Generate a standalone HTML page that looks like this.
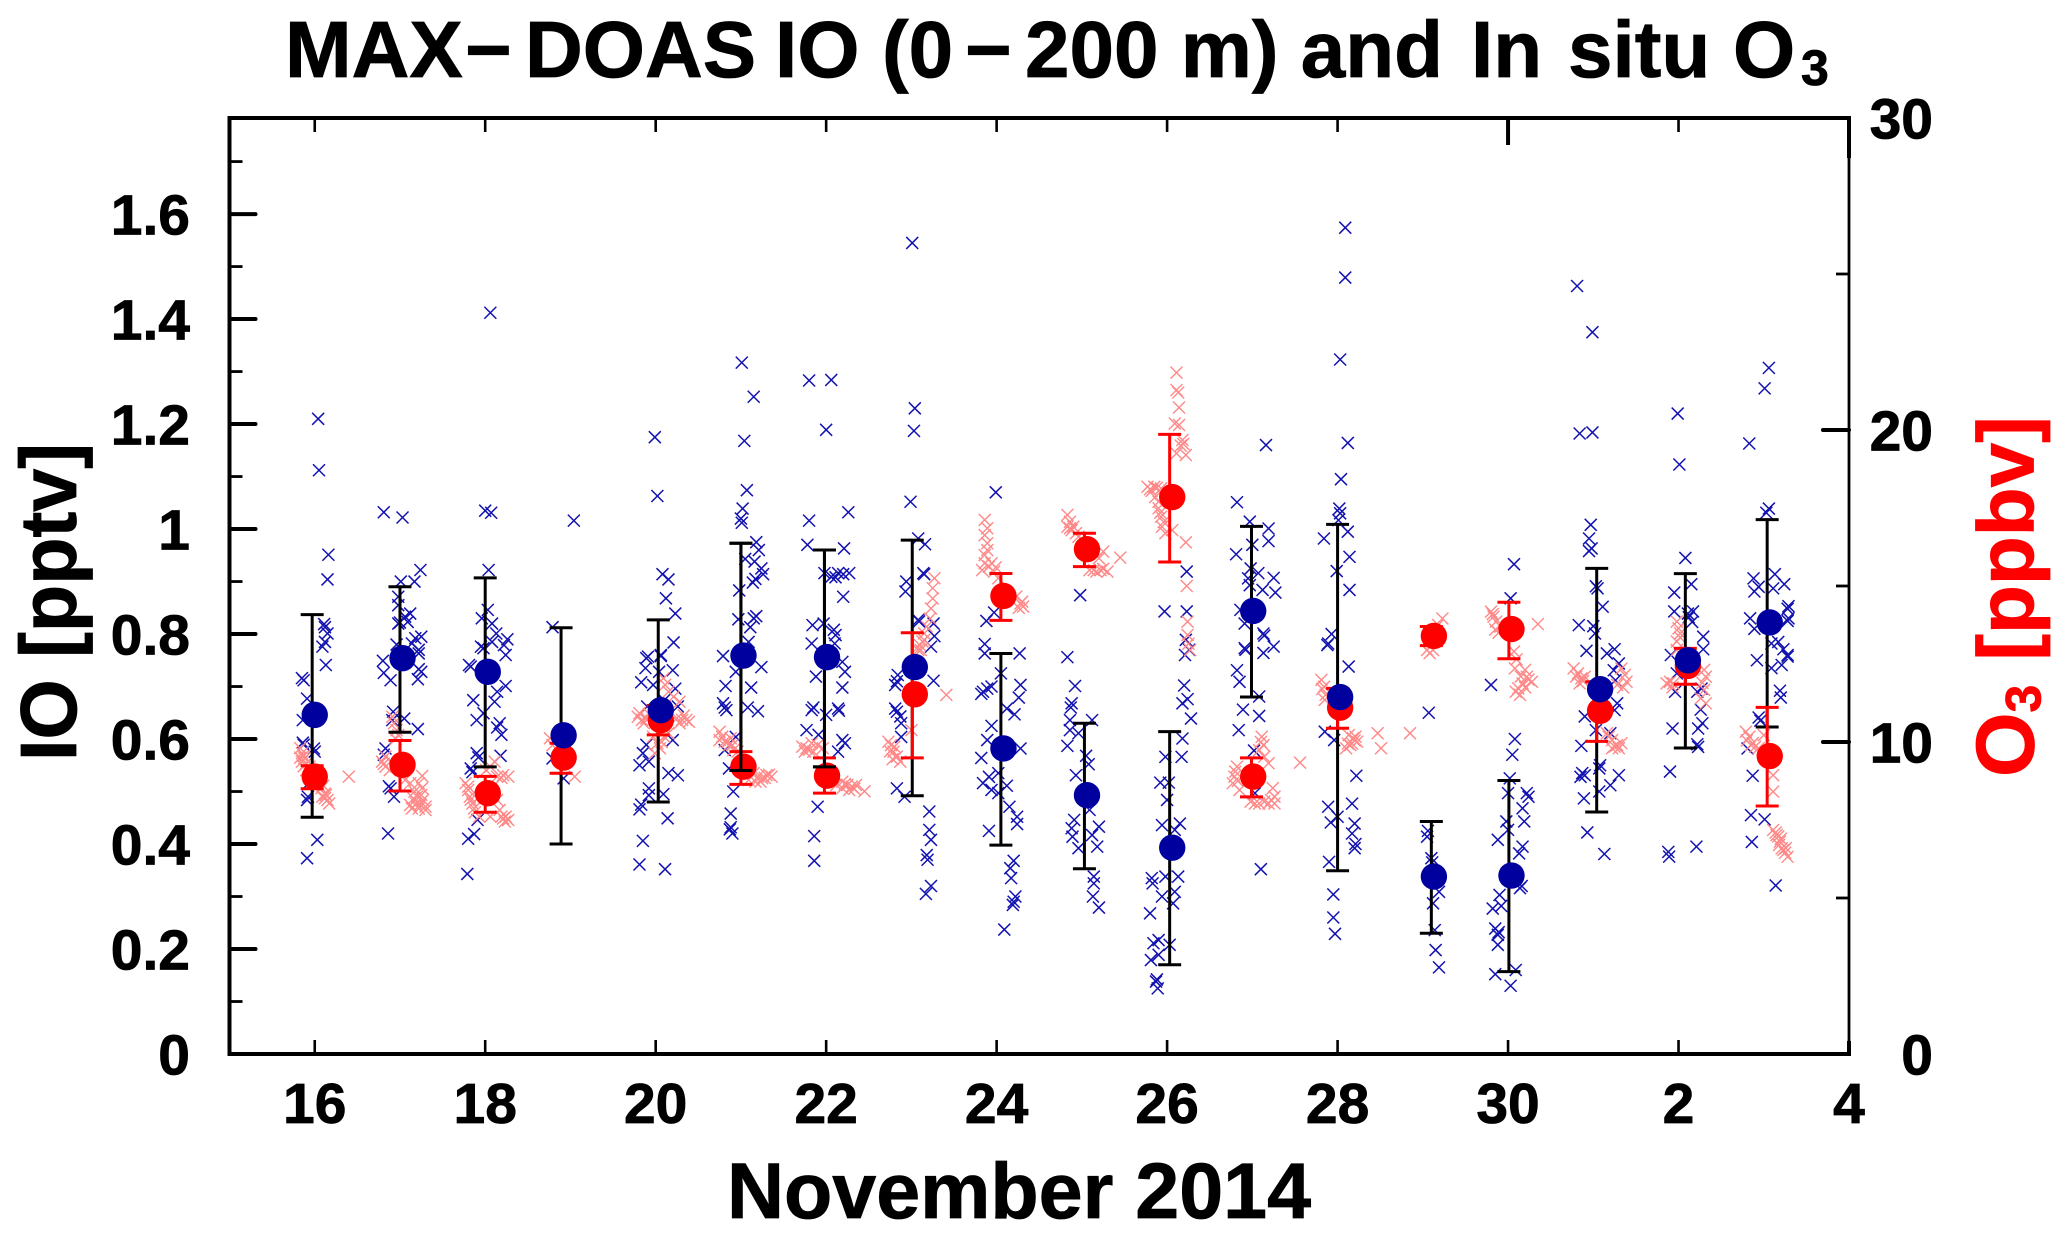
<!DOCTYPE html>
<html lang="en">
<head>
<meta charset="utf-8">
<title>MAX-DOAS IO and In situ O3</title>
<style>
html,body{margin:0;padding:0;background:#fff;}
svg{display:block;font-family:"Liberation Sans",Arial,sans-serif;font-weight:bold;}
</style>
</head>
<body>
<svg id="chart" width="2067" height="1235" viewBox="0 0 2067 1235" xmlns="http://www.w3.org/2000/svg">
  <rect x="0" y="0" width="2067" height="1235" fill="#fff"/>
  <text y="77" font-size="80" fill="#000" stroke="#000" stroke-width="0.8"><tspan x="285">MAX</tspan><tspan x="465">−</tspan><tspan x="525">DOAS</tspan><tspan x="775">IO</tspan><tspan x="882">(0</tspan><tspan x="965">−</tspan><tspan x="1025">200 m) and</tspan><tspan x="1471">In</tspan><tspan x="1568">situ</tspan><tspan x="1733">O</tspan><tspan x="1801" y="85" font-size="50">3</tspan></text>
  <text x="1019" y="1218" font-size="79" text-anchor="middle" fill="#000" stroke="#000" stroke-width="0.8">November 2014</text>
  <text transform="translate(76,761) rotate(-90)" font-size="80" textLength="318" lengthAdjust="spacingAndGlyphs" fill="#000" stroke="#000" stroke-width="0.8">IO [pptv]</text>
  <text transform="translate(2033.5,777) rotate(-90)" font-size="83" fill="#ff0000" stroke="#ff0000" stroke-width="0.8">O<tspan dy="7" font-size="50">3</tspan><tspan dy="-7" dx="24" font-size="80">[ppbv]</tspan></text>
  <g id="scatter-io"></g>
  <g id="scatter-o3"></g>
  <g id="bars"></g>
  <g id="means-o3"></g>
  <g id="bars-top"></g>
  <g id="means-io"></g>
  <g id="axes"></g>
</svg>
<script>
// Axis ranges
const dayRange = [15, 34];
const ioRange = [0, 1.783];
const o3Range = [0, 30];

// Tick labels
const xTickDays = [16, 18, 20, 22, 24, 26, 28, 30, 32, 34];
const xTickLabels = ['16', '18', '20', '22', '24', '26', '28', '30', '2', '4'];
const ioTicks = [0, 0.2, 0.4, 0.6, 0.8, 1, 1.2, 1.4, 1.6];
const ioTickLabels = ['0', '0.2', '0.4', '0.6', '0.8', '1', '1.2', '1.4', '1.6'];
const ioMinorTicks = [0.1, 0.3, 0.5, 0.7, 0.9, 1.1, 1.3, 1.5, 1.7];
const o3Ticks = [0, 10, 20, 30];
const o3TickLabels = ['0', '10', '20', '30'];
const o3MinorTicks = [5, 15, 25];

// Daily means and error bars
const meanDays = [16.00, 17.03, 18.03, 18.92, 20.06, 21.03, 22.01, 23.04, 24.08, 25.06, 26.06, 27.01, 28.03, 29.13, 30.04, 31.08, 32.11, 33.07];
const barDays = [15.97, 17.00, 18.00, 18.89, 20.03, 21.00, 21.98, 23.01, 24.05, 25.03, 26.03, 26.99, 28.00, 29.10, 30.01, 31.04, 32.08, 33.04];
const ioMean = [0.646, 0.754, 0.728, 0.607, 0.655, 0.759, 0.756, 0.737, 0.582, 0.493, 0.393, 0.844, 0.680, 0.338, 0.340, 0.695, 0.750, 0.822];
const ioHigh = [0.837, 0.890, 0.907, 0.812, 0.827, 0.973, 0.960, 0.979, 0.763, 0.630, 0.614, 1.005, 1.009, 0.443, 0.521, 0.925, 0.915, 1.018];
const ioLow = [0.451, 0.613, 0.547, 0.400, 0.480, 0.540, 0.547, 0.492, 0.398, 0.353, 0.170, 0.680, 0.349, 0.230, 0.157, 0.461, 0.583, 0.623];
const o3Mean = [8.89, 9.27, 8.36, 9.50, 10.70, 9.21, 8.92, 11.53, 14.68, 16.18, 17.85, 8.89, 11.10, 13.40, 13.62, 11.00, 12.44, 9.55];
const o3High = [9.24, 10.05, 8.90, 9.96, 11.17, 9.69, 9.49, 13.50, 15.40, 16.69, 19.86, 9.49, 11.72, 13.70, 14.48, 11.93, 13.00, 11.11];
const o3Low = [8.50, 8.43, 7.75, 9.00, 10.23, 8.64, 8.36, 9.49, 13.90, 15.62, 15.77, 8.24, 10.44, 13.09, 12.67, 10.02, 11.85, 7.95];

// Individual IO samples: [day, pptv]
const ioSamples = [
[16.04,1.21],[16.05,1.112],[16.16,.951],[16.15,.904],[16.11,.819],[16.12,.813],[16.15,.801],[16.12,.785],[16.09,.776],[16.13,.741],[15.85,.716],[15.87,.712],[15.91,.677],[15.86,.636],[15.86,.593],[15.87,.589],[15.99,.582],[16.0,.576],[15.93,.516],[15.91,.484],[15.92,.49],[16.03,.408],[15.91,.373],
[16.81,1.032],[17.03,1.022],[17.24,.922],[17.17,.9],[17.01,.9],[16.98,.871],[16.98,.855],[17.12,.839],[17.06,.833],[17.09,.823],[16.98,.82],[17.0,.822],[17.25,.795],[17.18,.792],[17.14,.782],[17.22,.77],[16.96,.78],[16.8,.749],[16.81,.726],[16.89,.712],[17.22,.763],[17.25,.728],[17.22,.733],[17.21,.714],[16.92,.652],[17.05,.639],[16.91,.636],[17.21,.619],[16.83,.582],[16.81,.57],[16.89,.506],[16.87,.51],[16.93,.49],[16.86,.42],
[18.06,1.412],[18.0,1.035],[18.07,1.031],[18.04,.922],[18.03,.846],[17.96,.83],[18.08,.82],[18.13,.801],[18.08,.785],[17.95,.776],[17.98,.773],[18.26,.79],[18.22,.779],[18.24,.76],[17.81,.741],[17.83,.738],[18.24,.701],[18.14,.69],[18.11,.671],[17.86,.674],[17.9,.636],[18.14,.622],[18.19,.608],[18.17,.63],[18.18,.568],[17.9,.573],[17.92,.565],[17.83,.544],[17.85,.537],[17.91,.446],[17.87,.419],[17.8,.41],[17.79,.343],[17.98,.649],
[19.04,1.016],[18.79,.813],[18.79,.563],[18.92,.525],
[19.99,1.175],[20.02,1.063],[20.08,.914],[20.15,.904],[20.12,.868],[20.23,.839],[20.21,.784],[19.91,.757],[20.06,.76],[19.89,.754],[20.06,.758],[19.88,.735],[20.04,.728],[20.2,.731],[19.83,.708],[19.97,.703],[20.23,.696],[20.1,.674],[20.26,.662],[19.9,.662],[20.2,.598],[19.89,.589],[19.85,.573],[19.92,.557],[19.81,.55],[20.15,.535],[20.26,.531],[19.92,.506],[19.92,.493],[20.09,.495],[19.81,.466],[19.83,.475],[20.14,.449],[19.85,.406],[19.81,.361],[20.11,.352],
[21.01,1.317],[21.15,1.252],[21.04,1.168],[21.07,1.074],[21.02,1.039],[21.0,1.02],[21.01,1.012],[21.18,.975],[21.21,.96],[21.05,.943],[21.16,.938],[21.24,.925],[21.26,.914],[21.17,.905],[21.14,.898],[20.98,.883],[21.18,.834],[21.15,.83],[20.97,.828],[21.11,.813],[21.09,.785],[20.79,.758],[21.24,.737],[20.94,.728],[20.82,.701],[21.12,.698],[20.79,.668],[20.81,.66],[20.83,.655],[21.08,.66],[21.2,.653],[20.94,.604],[20.81,.579],[20.86,.544],[20.91,.5],[20.88,.458],[20.87,.428],[20.88,.432],[20.9,.42],
[21.8,1.283],[22.06,1.284],[22.0,1.189],[21.8,1.016],[22.26,1.032],[21.78,.97],[22.21,.963],[21.98,.916],[22.06,.909],[22.14,.916],[22.2,.914],[22.27,.916],[22.11,.908],[22.2,.871],[21.84,.817],[21.97,.82],[22.09,.808],[22.11,.798],[21.83,.782],[22.1,.782],[22.19,.747],[22.22,.728],[21.88,.719],[22.19,.698],[21.83,.655],[21.85,.66],[22.14,.658],[22.15,.654],[22.0,.646],[21.77,.617],[21.91,.608],[22.19,.598],[22.22,.592],[22.14,.576],[21.9,.471],[21.86,.415],[21.86,.368],
[23.01,1.545],[23.04,1.23],[23.03,1.187],[22.99,1.052],[23.08,.982],[23.16,.971],[23.14,.916],[23.15,.914],[22.94,.9],[22.93,.881],[23.08,.827],[23.09,.824],[23.26,.82],[23.27,.796],[23.23,.776],[22.84,.722],[22.81,.703],[22.83,.71],[23.26,.711],[22.81,.658],[22.83,.652],[22.87,.643],[22.88,.63],[22.88,.604],[22.83,.506],[22.92,.49],[23.21,.462],[23.21,.427],[23.23,.408],[23.18,.379],[23.19,.37],[23.23,.32],[23.17,.305],
[23.99,1.07],[23.97,.841],[23.88,.825],[23.86,.781],[23.86,.763],[24.27,.763],[24.05,.725],[24.28,.703],[23.94,.7],[23.89,.696],[23.82,.686],[23.84,.69],[24.26,.679],[24.12,.658],[24.21,.647],[23.94,.625],[23.89,.598],[24.28,.582],[23.82,.564],[24.02,.535],[23.91,.528],[23.84,.516],[24.12,.511],[23.94,.503],[24.02,.497],[24.15,.471],[24.24,.452],[23.91,.425],[24.24,.438],[24.2,.368],[24.16,.354],[24.17,.335],[24.22,.3],[24.19,.284],[24.2,.29],[24.09,.237],
[24.98,.874],[24.83,.756],[24.92,.701],[24.88,.668],[24.87,.66],[24.86,.636],[24.86,.617],[24.96,.611],[24.83,.587],[25.05,.568],[25.08,.552],[24.93,.531],[25.09,.465],[24.91,.446],[24.88,.43],[25.12,.417],[24.89,.414],[25.2,.433],[25.18,.395],[24.96,.392],[25.14,.338],[25.14,.325],[25.13,.3],[25.2,.279],[25.12,.636],
[26.23,.919],[26.23,.843],[25.97,.843],[26.22,.789],[26.26,.77],[26.21,.76],[26.2,.702],[26.24,.676],[26.18,.668],[26.28,.639],[26.18,.601],[26.17,.566],[25.98,.566],[25.92,.517],[26.02,.517],[26.0,.484],[25.94,.436],[26.15,.439],[26.09,.427],[25.82,.335],[25.83,.325],[25.98,.338],[26.13,.338],[26.09,.309],[25.94,.3],[26.07,.287],[25.8,.268],[26.03,.208],[25.9,.217],[25.84,.211],[25.9,.189],[25.81,.179],[25.87,.138],[25.88,.142],[25.89,.125],
[26.82,1.051],[26.97,1.014],[27.19,1.001],[27.19,.977],[27.0,.97],[26.81,.952],[26.98,.925],[27.07,.916],[27.25,.907],[26.95,.906],[26.97,.893],[27.12,.884],[27.27,.879],[27.16,1.16],[26.86,.846],[26.91,.82],[27.13,.801],[27.14,.797],[27.25,.776],[26.91,.773],[26.92,.77],[27.13,.764],[26.82,.731],[26.85,.709],[27.08,.681],[26.89,.656],[27.08,.644],[26.84,.617],[27.02,.578],[27.1,.352],[27.03,.497],
[28.09,1.574],[28.09,1.479],[28.03,1.323],[28.12,1.164],[28.04,1.095],[28.02,1.039],[28.03,1.03],[28.01,1.017],[28.12,.995],[27.84,.982],[28.14,.947],[27.99,.92],[28.14,.884],[27.93,.8],[27.88,.779],[27.89,.782],[28.13,.738],[27.85,.614],[27.96,.598],[28.22,.53],[28.17,.477],[27.89,.471],[28.0,.452],[27.92,.441],[28.2,.439],[28.17,.42],[28.2,.392],[28.21,.4],[27.9,.366],[27.95,.304],[27.95,.26],[27.97,.229],
[29.07,.65],[29.05,.414],[29.06,.425],[29.1,.373],[29.11,.365],[29.19,.309],[29.12,.287],[29.14,.236],[29.15,.198],[29.19,.165],
[30.07,.933],[30.03,.868],[29.8,.703],[30.08,.6],[30.05,.57],[30.02,.525],[30.0,.497],[30.22,.497],[30.24,.49],[30.17,.468],[29.98,.443],[30.19,.443],[30.0,.427],[29.88,.408],[30.17,.395],[30.13,.382],[30.14,.316],[30.16,.32],[29.9,.303],[29.82,.277],[29.92,.282],[29.85,.239],[29.88,.227],[29.89,.232],[29.88,.208],[29.85,.152],[30.09,.16],[30.03,.13],
[30.81,1.463],[30.99,1.375],[30.84,1.182],[30.99,1.184],[30.97,1.008],[30.95,.982],[30.98,.963],[30.95,.958],[31.03,.891],[31.05,.887],[31.11,.852],[30.83,.817],[31.0,.815],[31.02,.801],[30.92,.768],[31.16,.763],[31.25,.771],[31.3,.744],[31.24,.731],[31.26,.712],[31.28,.668],[31.25,.655],[30.9,.643],[31.03,.617],[31.2,.611],[30.86,.587],[31.07,.544],[31.08,.55],[30.85,.528],[30.9,.531],[30.87,.535],[31.07,.5],[31.3,.531],[31.2,.512],[30.89,.487],[30.93,.422],[31.13,.381],
[31.99,1.22],[32.01,1.123],[32.08,.945],[32.15,.895],[31.95,.879],[31.95,.843],[32.11,.839],[32.17,.843],[32.12,.832],[32.16,.823],[32.29,.795],[32.29,.771],[31.91,.76],[31.98,.725],[31.96,.69],[32.22,.69],[32.27,.696],[32.26,.656],[32.23,.62],[31.93,.62],[32.28,.63],[32.22,.59],[32.23,.585],[31.9,.538],[32.21,.395],[31.88,.385],[31.89,.376],
[33.06,1.307],[33.01,1.268],[32.83,1.163],[33.06,1.039],[33.03,1.031],[32.88,.906],[33.13,.914],[33.24,.895],[32.94,.89],[32.89,.881],[33.11,.887],[33.29,.853],[33.28,.848],[32.84,.83],[33.28,.825],[33.29,.83],[32.89,.81],[33.17,.785],[33.09,.782],[33.23,.771],[33.28,.76],[32.92,.75],[33.09,.735],[33.21,.741],[33.28,.757],[33.19,.692],[33.2,.679],[32.94,.641],[32.96,.635],[32.81,.582],[32.87,.53],[32.85,.455],[33.01,.447],[32.86,.404],[33.14,.321]
];

// Individual in situ O3 samples: [day, ppbv]
const o3Samples = [
[15.83,9.8],[15.85,9.64],[15.83,9.5],[15.87,9.55],[15.88,9.48],[15.85,9.37],[15.9,9.32],[15.87,9.22],[15.94,9.21],[15.9,9.1],[16.07,8.68],[16.1,8.6],[16.08,8.52],[16.12,8.35],[16.09,8.25],[16.12,8.2],[16.15,8.14],[16.13,8.3],[16.17,8.03],[16.4,8.89],
[16.91,10.81],[16.93,10.6],[16.96,10.38],[16.98,10.22],[16.95,10.1],[16.83,9.53],[16.79,9.37],[16.83,9.21],[16.88,9.1],[16.81,9.3],[17.06,8.78],[17.12,8.68],[17.26,8.91],[17.22,8.68],[17.26,8.52],[17.17,8.41],[17.25,8.3],[17.16,8.19],[17.27,8.14],[17.19,8.03],[17.12,7.98],[17.3,7.93],[17.22,7.87],[17.14,7.87],[17.3,7.82],[17.24,8.0],[17.2,8.25],
[18.11,9.37],[18.06,9.21],[18.01,9.1],[18.21,8.94],[18.27,8.89],[18.14,8.89],[18.19,8.85],[17.77,8.68],[17.8,8.46],[17.82,8.25],[17.8,8.57],[17.85,8.03],[17.87,7.87],[17.93,7.61],[17.83,8.15],[17.88,7.75],[18.14,8.14],[18.17,7.82],[18.19,7.61],[18.24,7.61],[18.27,7.5],[18.23,7.45],[18.06,7.61],[18.21,7.55],
[18.76,10.12],[18.79,9.9],[19.05,8.89],
[20.09,12.04],[20.11,11.83],[20.15,11.61],[20.21,11.45],[20.28,11.29],[19.79,10.81],[19.84,10.71],[19.81,10.92],[19.89,10.76],[19.86,10.6],[19.92,10.9],[20.25,10.76],[20.31,10.71],[20.36,10.71],[20.28,10.6],[20.39,10.65],[20.33,10.85],[19.97,10.17],[20.1,10.17],[20.02,9.96],[20.05,9.8],[19.99,9.64],[20.15,10.28],[20.07,10.0],
[20.75,10.33],[20.78,10.17],[20.81,10.01],[20.75,10.06],[20.86,9.9],[20.88,10.12],[20.91,9.74],[20.96,9.69],[20.84,10.0],[20.9,9.9],[21.15,9.0],[21.2,8.89],[21.25,8.84],[21.3,8.94],[21.36,8.89],[21.23,8.73],[21.17,8.73],[21.09,8.78],[21.28,8.85],[21.33,8.95],
[21.72,9.85],[21.77,9.8],[21.83,9.96],[21.75,9.69],[21.85,9.69],[21.96,9.8],[21.8,9.75],[21.9,9.9],[22.19,8.73],[22.25,8.62],[22.3,8.57],[22.35,8.62],[22.19,8.52],[22.12,8.62],[22.27,8.46],[22.45,8.42],[22.22,8.65],[22.33,8.5],
[23.27,15.25],[23.25,14.93],[23.25,14.6],[23.23,14.28],[23.22,13.96],[23.18,13.7],[23.15,13.48],[23.13,13.22],[23.11,12.95],[23.15,13.27],[23.08,12.95],[23.1,13.1],[23.41,11.51],[23.0,10.38],[22.76,9.9],[22.79,9.69],[22.83,9.53],[22.87,9.37],[22.73,10.01],[22.75,9.7],[22.8,9.85],[22.78,9.45],
[23.86,17.12],[23.89,16.85],[23.86,16.63],[23.89,16.37],[23.86,15.99],[23.89,16.15],[23.86,15.73],[23.83,15.51],[23.91,15.62],[23.97,15.46],[23.94,15.73],[24.02,15.25],[23.99,15.6],[24.23,14.66],[24.28,14.44],[24.31,14.34],[24.26,14.3],[24.3,14.5],
[24.83,17.28],[24.86,17.06],[24.83,16.9],[24.88,16.79],[24.93,16.69],[24.96,16.58],[24.86,16.85],[24.9,16.9],[25.25,16.1],[25.2,15.89],[25.22,15.51],[25.14,15.51],[25.09,15.51],[25.3,15.46],[25.17,15.46],[25.25,15.55],[25.45,15.91],
[26.11,21.84],[26.11,21.28],[26.13,21.2],[26.14,20.72],[26.09,20.21],[26.14,20.16],[26.18,19.68],[26.16,19.5],[26.19,19.55],[26.11,19.25],[26.22,19.2],[25.77,18.18],[25.85,18.18],[25.93,18.13],[25.8,18.1],[25.88,18.15],[25.82,18.05],[25.86,17.85],[25.9,17.49],[25.9,17.7],[25.93,17.22],[25.92,17.35],[25.94,16.9],[25.96,17.05],[25.98,16.69],[26.06,16.79],[26.22,16.4],[26.23,15.0],[26.24,13.86],[26.24,13.43],[26.27,12.95],[26.25,13.15],
[27.11,10.17],[27.13,9.9],[27.08,9.74],[27.14,9.53],[27.19,9.32],[27.1,10.0],[26.82,9.21],[26.79,8.89],[26.77,8.68],[26.85,8.46],[26.8,9.05],[26.83,8.75],[27.24,8.52],[27.26,8.25],[26.98,8.09],[27.08,8.03],[27.19,8.03],[27.26,8.03],[27.22,8.14],[27.14,8.09],[27.03,8.03],[27.56,9.34],
[27.81,11.99],[27.84,11.77],[27.86,11.51],[27.82,11.7],[27.85,11.35],[28.13,10.22],[28.18,10.12],[28.23,10.01],[28.15,9.9],[28.1,9.8],[28.21,10.17],[28.17,9.95],[28.2,10.05],[28.12,9.95],[28.47,10.28],[28.51,9.8],[28.85,10.28],
[29.23,13.96],[29.18,13.75],[29.05,12.95],[29.12,12.95],[29.08,12.85],
[29.8,14.18],[29.83,14.02],[29.86,13.86],[29.91,13.7],[29.85,13.6],[29.82,14.1],[29.89,13.5],[30.35,13.78],[30.07,12.9],[30.1,12.65],[30.08,12.36],[30.2,12.31],[30.22,12.09],[30.17,11.88],[30.12,11.72],[30.09,11.61],[30.28,11.93],[30.14,11.51],[30.2,11.75],[30.24,12.0],[30.15,12.1],
[30.77,12.36],[30.82,12.2],[30.86,12.04],[30.9,12.09],[30.84,11.88],[30.8,12.1],[30.88,11.95],[31.37,12.15],[31.39,11.93],[31.28,11.83],[31.35,11.75],[31.33,12.35],[31.16,10.28],[31.22,10.06],[31.28,9.9],[31.33,9.96],[31.22,9.8],[31.18,10.17],[31.3,9.8],[31.25,9.85],
[31.98,13.86],[32.0,13.64],[32.02,13.48],[31.98,13.22],[31.98,12.95],[32.02,13.35],[31.9,11.93],[31.94,11.88],[31.86,11.88],[31.93,11.75],[32.3,12.31],[32.32,12.09],[32.3,11.67],[32.32,11.24],[32.26,11.4],[32.28,11.9],
[32.79,10.33],[32.83,10.17],[32.87,9.96],[32.94,9.8],[33.0,10.22],[32.8,10.05],[32.85,9.9],[32.9,9.85],[33.11,8.94],[33.11,8.41],[33.11,7.18],[33.15,7.02],[33.19,6.81],[33.23,6.54],[33.28,6.32],[33.17,6.97],[33.21,6.59],[33.14,7.1],[33.18,6.7],[33.25,6.45],[33.26,6.6],[33.2,6.9]
];

// Days where the IO error bar sits over the O3 circle
const ioBarOverO3Days = [21.00, 21.98];

const NS = 'http://www.w3.org/2000/svg';
const plotLeft = 229.5, plotRight = 1849, plotTop = 118, plotBottom = 1054;

function xScale(day) {
  return plotLeft + (day - dayRange[0]) / (dayRange[1] - dayRange[0]) * (plotRight - plotLeft);
}
function ioScale(v) {
  return plotBottom - (v - ioRange[0]) / (ioRange[1] - ioRange[0]) * (plotBottom - plotTop);
}
function o3Scale(v) {
  return plotBottom - (v - o3Range[0]) / (o3Range[1] - o3Range[0]) * (plotBottom - plotTop);
}
function make(parent, tag, props) {
  const el = document.createElementNS(NS, tag);
  for (const key in props) el.setAttribute(key, props[key]);
  parent.appendChild(el);
  return el;
}
function crossPath(cx, cy, r) {
  return 'M' + (cx - r) + ' ' + (cy - r) + 'L' + (cx + r) + ' ' + (cy + r) + 'M' + (cx - r) + ' ' + (cy + r) + 'L' + (cx + r) + ' ' + (cy - r);
}

// Scatter marks
const ioGroup = document.getElementById('scatter-io');
ioSamples.forEach(function (s) {
  const el = make(ioGroup, 'path', { d: crossPath(xScale(s[0]), ioScale(s[1]), 6), stroke: '#1212b0', 'stroke-width': 1.5, fill: 'none' });
  
  
});
const o3Group = document.getElementById('scatter-o3');
o3Samples.forEach(function (s) {
  const el = make(o3Group, 'path', { d: crossPath(xScale(s[0]), o3Scale(s[1]), 6), stroke: '#ff8888', 'stroke-width': 1.4, fill: 'none' });
  
  
});

// Error bars
function drawBar(parent, day, hi, lo, scale, color, name) {
  const x = xScale(day), y1 = scale(hi), y2 = scale(lo);
  const d = 'M' + x + ' ' + y1 + 'L' + x + ' ' + y2 + 'M' + (x - 11.5) + ' ' + y1 + 'L' + (x + 11.5) + ' ' + y1 + 'M' + (x - 11.5) + ' ' + y2 + 'L' + (x + 11.5) + ' ' + y2;
  const el = make(parent, 'path', { d: d, stroke: color, 'stroke-width': 3, fill: 'none' });
  
  
}
const barGroup = document.getElementById('bars');
barDays.forEach(function (day, i) {
  drawBar(barGroup, day, ioHigh[i], ioLow[i], ioScale, '#000', 'io-error-bar');
});
barDays.forEach(function (day, i) {
  drawBar(barGroup, day, o3High[i], o3Low[i], o3Scale, '#ff0000', 'o3-error-bar');
});

// Daily mean circles
const o3MeanGroup = document.getElementById('means-o3');
meanDays.forEach(function (day, i) {
  const el = make(o3MeanGroup, 'circle', { cx: xScale(day), cy: o3Scale(o3Mean[i]), r: 13.2, fill: '#ff0000' });
  
  
});
const barTopGroup = document.getElementById('bars-top');
barDays.forEach(function (day, i) {
  if (ioBarOverO3Days.indexOf(day) >= 0) drawBar(barTopGroup, day, ioHigh[i], ioLow[i], ioScale, '#000', 'io-error-bar-over-o3');
});
const ioMeanGroup = document.getElementById('means-io');
meanDays.forEach(function (day, i) {
  const el = make(ioMeanGroup, 'circle', { cx: xScale(day), cy: ioScale(ioMean[i]), r: 13.2, fill: '#00009f' });
  
  
});

// Axes
const axes = document.getElementById('axes');
function line(x1, y1, x2, y2, w, name, cap) {
  const el = make(axes, 'line', { x1: x1, y1: y1, x2: x2, y2: y2, stroke: '#000', 'stroke-width': w, 'stroke-linecap': cap || 'butt' });
  
  
}
function label(x, y, txt, anchor, name) {
  const el = make(axes, 'text', { x: x, y: y, 'text-anchor': anchor, 'font-size': 57, fill: '#000', stroke: '#000', 'stroke-width': 0.8 });
  el.textContent = txt;
  
  
}
line(plotLeft, plotTop - 2, plotLeft, plotBottom + 2, 4, 'left-axis-line');
line(plotLeft - 2, plotTop, plotRight + 2, plotTop, 4, 'top-axis-line');
line(plotLeft - 2, plotBottom, plotRight + 2, plotBottom, 4, 'bottom-axis-line');
line(plotRight, plotTop, plotRight, plotBottom, 2.8, 'right-axis-line');
line(plotRight, plotTop, plotRight, plotTop + 40, 4, 'right-axis-top-tick');
line(plotRight, plotBottom - 13, plotRight, plotBottom, 4, 'right-axis-bottom-tick');

ioTicks.forEach(function (v, i) {
  const y = ioScale(v);
  if (v > 0) line(plotLeft, y, plotLeft + 26, y, 4, 'left-major-tick', 'round');
  label(190, y + 20.5, ioTickLabels[i], 'end', 'left-tick-label');
});
ioMinorTicks.forEach(function (v) {
  const y = ioScale(v);
  line(plotLeft, y, plotLeft + 13, y, 2.8, 'left-minor-tick');
});
o3Ticks.forEach(function (v, i) {
  const y = o3Scale(v);
  if (v > 0 && v < 30) line(plotRight - 26, y, plotRight, y, 4, 'right-major-tick', 'round');
  label(1933, y + 20.5, o3TickLabels[i], 'end', 'right-tick-label');
});
o3MinorTicks.forEach(function (v) {
  const y = o3Scale(v);
  line(plotRight - 13, y, plotRight, y, 2.8, 'right-minor-tick');
});
xTickDays.forEach(function (d, i) {
  const x = xScale(d);
  if (d < 34) {
    line(x, plotBottom - 14, x, plotBottom, 2.6, 'bottom-tick');
    line(x, plotTop, x, plotTop + (d === 30 ? 27 : 14), d === 30 ? 4 : 2.6, 'top-tick');
  }
  label(x, 1123, xTickLabels[i], 'middle', 'x-tick-label');
});
</script>
</body>
</html>
